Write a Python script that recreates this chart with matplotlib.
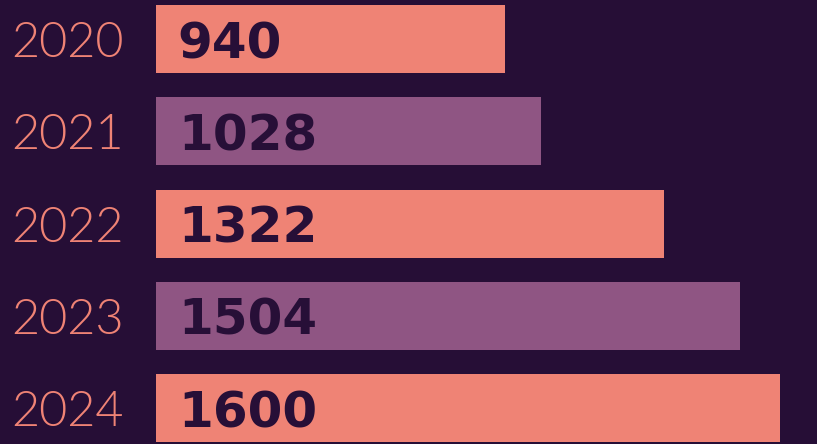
import matplotlib
matplotlib.use("Agg")
import matplotlib.pyplot as plt
from matplotlib.transforms import blended_transform_factory

years = ["2020", "2021", "2022", "2023", "2024"]
values = [940, 1028, 1322, 1504, 1600]
bar_colors = ["#ef8375", "#8f5583", "#ef8375", "#8f5583", "#ef8375"]

bg = "#260e36"
text_dark = "#270f37"
year_color = "#ef8375"

fig = plt.figure(figsize=(8.17, 4.44), dpi=100)
fig.patch.set_facecolor(bg)
ax = fig.add_axes([156 / 817, 0, 661 / 817, 1])
ax.set_facecolor(bg)

pos = list(range(len(years)))
ax.barh(pos, values, height=0.737, color=bar_colors)

ax.set_xlim(102, 1690)
ax.set_ylim(4.39, -0.423)
ax.axis("off")

tr = blended_transform_factory(ax.transAxes, ax.transData)
for i, (yr, v) in enumerate(zip(years, values)):
    ax.text(-0.2194, i, yr, transform=tr, ha="left", va="center_baseline",
            fontsize=35, color=year_color, family=["Lato", "DejaVu Sans"],
            fontweight=300, clip_on=False)
    ax.text(0.033, i, str(v), transform=tr, ha="left", va="center_baseline",
            fontsize=36, color=text_dark, family="DejaVu Sans",
            fontweight="bold")

fig.savefig("out.png", dpi=100, facecolor=bg)
